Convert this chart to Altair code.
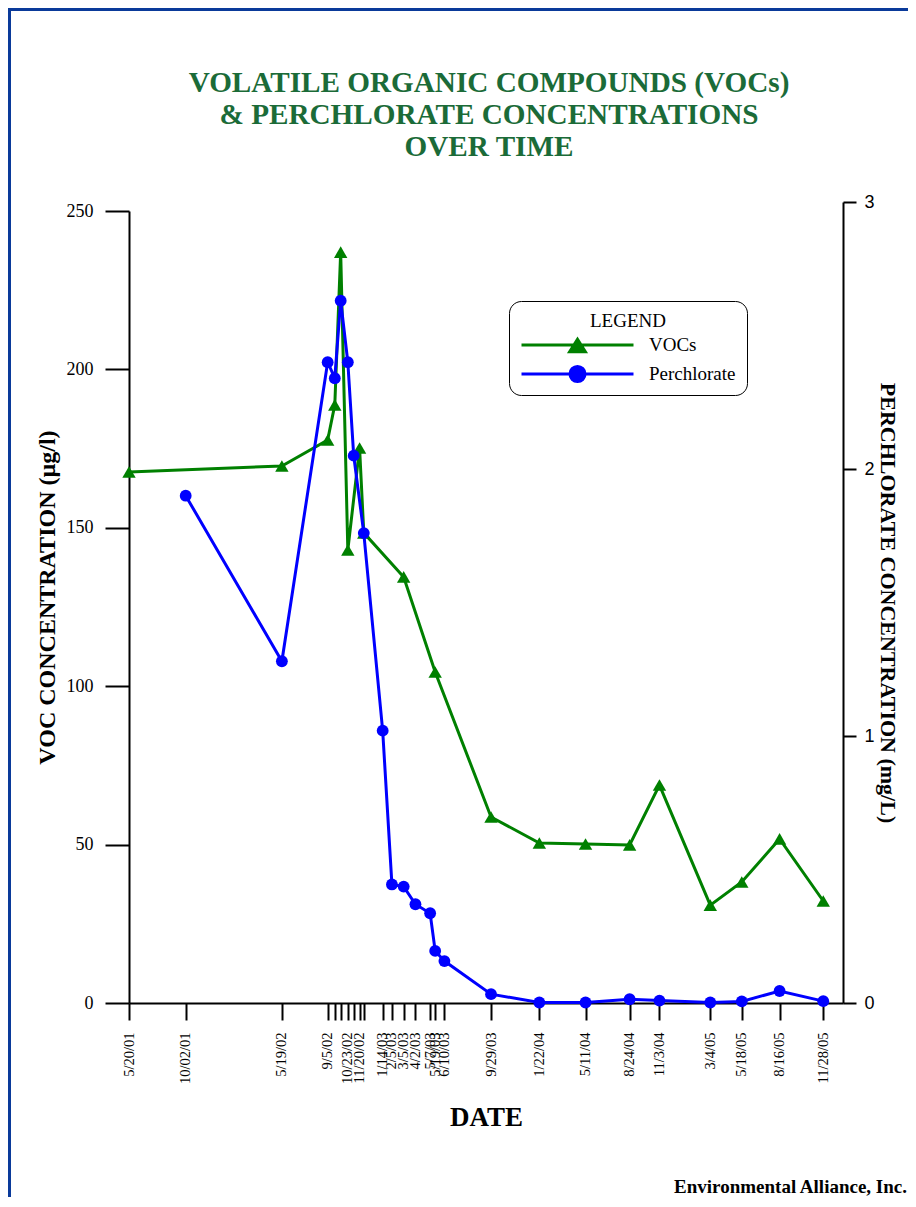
import altair as alt
import pandas as pd

# ---------------- data ----------------
voc_dates = ["2001-05-20", "2002-05-19", "2002-09-05", "2002-09-22", "2002-10-06",
             "2002-10-23", "2002-11-20", "2002-11-30", "2003-03-05", "2003-05-19",
             "2003-09-29", "2004-01-22", "2004-05-11", "2004-08-24", "2004-11-03",
             "2005-03-04", "2005-05-18", "2005-08-16", "2005-11-28"]
voc_values = [167.6, 169.5, 177.7, 188.8, 237.0, 143.0, 175.2, 148.4, 134.5, 104.5,
              58.7, 50.5, 50.2, 49.9, 68.8, 30.9, 38.2, 51.8, 32.2]

perc_dates = ["2001-10-02", "2002-05-19", "2002-09-05", "2002-09-22", "2002-10-06",
              "2002-10-23", "2002-11-06", "2002-11-30", "2003-01-14", "2003-02-05",
              "2003-03-05", "2003-04-02", "2003-05-07", "2003-05-19", "2003-06-10",
              "2003-09-29", "2004-01-22", "2004-05-11", "2004-08-24", "2004-11-03",
              "2005-03-04", "2005-05-18", "2005-08-16", "2005-11-28"]
perc_values = [1.90, 1.28, 2.40, 2.34, 2.63, 2.40, 2.05, 1.76, 1.02, 0.444,
               0.436, 0.370, 0.336, 0.195, 0.157, 0.033, 0.002, 0.002, 0.014, 0.009,
               0.002, 0.006, 0.045, 0.007]

tick_dates = ["2001-05-20", "2001-10-02", "2002-05-19", "2002-09-05", "2002-09-22",
              "2002-10-06", "2002-10-23", "2002-11-06", "2002-11-20", "2002-11-30",
              "2003-01-14", "2003-02-05", "2003-03-05", "2003-04-02", "2003-05-07",
              "2003-05-19", "2003-06-10", "2003-09-29", "2004-01-22", "2004-05-11",
              "2004-08-24", "2004-11-03", "2005-03-04", "2005-05-18", "2005-08-16",
              "2005-11-28"]
tick_labels = ["5/20/01", "10/02/01", "5/19/02", "9/5/02", "",
               "", "10/23/02", "", "11/20/02", "",
               "1/14/03", "2/5/03", "3/5/03", "4/2/03", "5/7/03",
               "5/19/03", "6/10/03", "9/29/03", "1/22/04", "5/11/04",
               "8/24/04", "11/3/04", "3/4/05", "5/18/05", "8/16/05",
               "11/28/05"]

series_names = ["VOCs", "Perchlorate"]
series_colors = ["#008000", "#0000ff"]

title_lines = ["VOLATILE ORGANIC COMPOUNDS (VOCs)",
               "& PERCHLORATE CONCENTRATIONS",
               "OVER TIME"]
footer_text = ["Environmental Alliance, Inc."]

# ---------------- styling ----------------
SERIF = "Liberation Serif"
SANS = "Liberation Sans"
W, H = 714, 801
PAD = {"left": 121, "top": 194, "right": 65, "bottom": 194}

voc_df = pd.DataFrame({"date": [d + "T00:00:00" for d in voc_dates],
                       "voc": voc_values, "series": series_names[0]})
perc_df = pd.DataFrame({"date": [d + "T00:00:00" for d in perc_dates],
                        "perc": perc_values, "series": series_names[1]})


def dt(s):
    y, m, d = s.split("-")
    return alt.DateTime(year=int(y), month=int(m), date=int(d))


label_expr = ("[" + ",".join("'%s'" % l for l in tick_labels) + "]"
              "[indexof([" + ",".join("'%s'" % d for d in tick_dates) + "],"
              " timeFormat(datum.value, '%Y-%m-%d'))]")

x_enc = alt.X(
    "date:T",
    scale=alt.Scale(domain=[dt("2001-05-20"), dt("2006-01-14")], nice=False),
    axis=alt.Axis(
        values=[dt(d) for d in tick_dates], labelExpr=label_expr,
        labelAngle=270, labelOverlap=False, labelFont=SERIF, labelFontSize=14.5,
        labelColor="black", labelPadding=12, tickSize=17, tickWidth=2,
        tickColor="black", domainColor="black", domainWidth=2, grid=False,
        title="DATE", titleFont=SERIF, titleFontSize=27, titleFontWeight="bold",
        titleColor="black", titlePadding=21,
    ),
)

y_left = alt.Y(
    "voc:Q",
    scale=alt.Scale(domain=[0, 250], range=[H, 9], nice=False),
    axis=alt.Axis(
        orient="left", values=[0, 50, 100, 150, 200, 250], format="d",
        labelFont=SERIF, labelFontSize=18, labelColor="black", labelPadding=12,
        tickSize=24, tickWidth=2, tickColor="black", domainColor="black",
        domainWidth=2, grid=False,
        title="VOC CONCENTRATION (µg/l)", titleFont=SERIF, titleFontSize=24,
        titleFontWeight="bold", titleColor="black", titlePadding=7,
        titleY=395,
    ),
)

y_right = alt.Y(
    "perc:Q",
    scale=alt.Scale(domain=[0, 3], nice=False),
    axis=alt.Axis(
        orient="right", values=[0, 1, 2, 3], format="d",
        labelFont=SANS, labelFontSize=18, labelColor="black", labelPadding=8,
        tickSize=13, tickWidth=2, tickColor="black", domainColor="black",
        domainWidth=2, grid=False,
        title="PERCHLORATE CONCENTRATION (mg/L)", titleFont=SERIF,
        titleFontSize=22, titleFontWeight="bold", titleColor="black",
        titlePadding=1,
    ),
)

# legend symbols: a line with the marker in its middle
voc_path = "M-1,0L1,0M0,-0.1L0.14,0.12L-0.14,0.12Z"
perc_path = ("M-1,0L1,0M0.135,0A0.135,0.135,0,1,1,-0.135,0"
             "A0.135,0.135,0,1,1,0.135,0Z")
sym_size = 112 * 112

legend = alt.Legend(
    title="LEGEND", orient="none", legendX=380, legendY=99,
    titleAnchor="middle", titleFont=SERIF, titleFontSize=19,
    titleFontWeight="normal", titleColor="black", titlePadding=4,
    labelFont=SERIF, labelFontSize=19, labelColor="black", labelOffset=14,
    symbolSize=sym_size, symbolStrokeWidth=3, symbolOpacity=1,
    clipHeight=20, rowPadding=9,
    padding=11, strokeColor="black", cornerRadius=12, fillColor="white",
)

color_enc = alt.Color(
    "series:N",
    scale=alt.Scale(domain=series_names, range=series_colors),
    legend=legend,
)
shape_enc = alt.Shape(
    "series:N",
    scale=alt.Scale(domain=series_names, range=[voc_path, perc_path]),
    legend=legend,
)

voc_line = alt.Chart(voc_df).mark_line(strokeWidth=3).encode(
    x=x_enc, y=y_left, color=color_enc)
voc_pts = alt.Chart(voc_df).mark_point(
    shape="triangle-up", filled=True, size=180, opacity=1).encode(
    x=x_enc, y=y_left, color=color_enc)
perc_line = alt.Chart(perc_df).mark_line(strokeWidth=3).encode(
    x=x_enc, y=y_right, color=color_enc)
perc_pts = alt.Chart(perc_df).mark_circle(size=140, opacity=1).encode(
    x=x_enc, y=y_right, color=color_enc)

left = alt.layer(voc_line, voc_pts)
right = alt.layer(perc_line, perc_pts)

# invisible carrier of the legend symbol shapes
key_df = pd.DataFrame({"series": series_names})
legend_key = alt.Chart(key_df).mark_point(filled=True, size=sym_size).encode(
    x=alt.value(499), y=alt.value(143), color=color_enc, shape=shape_enc,
    opacity=alt.value(0))

# page frame (kept inside the canvas)
one = pd.DataFrame({"k": [0]})
frame_color = "#0a3a9a"
right_edge = W + PAD["right"]
bottom_edge = H + PAD["bottom"]
frame_left = alt.Chart(one).mark_rule(color=frame_color, strokeWidth=3).encode(
    x=alt.value(-119.5), y=alt.value(-194), y2=alt.value(bottom_edge))
frame_top = alt.Chart(one).mark_rule(color=frame_color, strokeWidth=3).encode(
    x=alt.value(-121), x2=alt.value(right_edge), y=alt.value(-192.5))

footer = alt.Chart(pd.DataFrame({"t": footer_text})).mark_text(
    align="right", baseline="alphabetic", font=SERIF, fontSize=19,
    fontWeight="bold", color="black").encode(
    x=alt.value(right_edge - 1), y=alt.value(bottom_edge - 4), text="t:N")

chart = alt.layer(left, right, legend_key, frame_left, frame_top, footer).resolve_scale(
    y="independent"
).properties(
    width=W, height=H,
    title=alt.Title(title_lines, font=SERIF, fontSize=29.2, fontWeight="bold",
                    color="#1b6b38", lineHeight=32, anchor="middle",
                    frame="group", offset=-156, dx=3),
    autosize=alt.AutoSizeParams(type="none"),
    padding=PAD,
    background="white",
).configure_view(stroke=None)

chart.save("out.html", embed_options={"renderer": "svg", "actions": False})
